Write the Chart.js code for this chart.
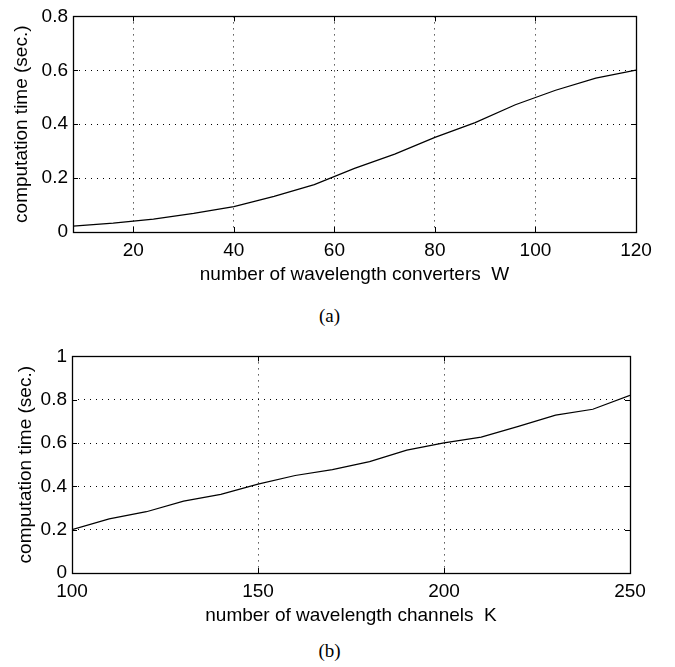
<!DOCTYPE html>
<html>
<head>
<meta charset="utf-8">
<script src="https://cdn.jsdelivr.net/npm/chart.js@4/dist/chart.umd.min.js"></script>
<style>
  body { margin: 0; background: #fff; width: 675px; height: 667px; position: relative; overflow: hidden; }
  canvas { position: absolute; left: 0; }
  .cap { position: absolute; width: 675px; text-align: center; font-family: "Liberation Serif", "DejaVu Serif", serif; font-size: 19px; color: #000; }
</style>
</head>
<body>
<canvas id="chartA" width="675" height="300" style="top:0px"></canvas>
<div class="cap" style="top:305px; left:-8px">(a)</div>
<canvas id="chartB" width="675" height="300" style="top:340px"></canvas>
<div class="cap" style="top:640px; left:-8px">(b)</div>
<script>
// (a) temps de calcul selon le nombre de convertisseurs W
const convertersW = [8, 16, 24, 32, 40, 48, 56, 64, 72, 80, 88, 96, 104, 112, 120]
const timeA = [0.022, 0.033, 0.048, 0.069, 0.094, 0.132, 0.176, 0.236, 0.289, 0.351, 0.406, 0.472, 0.526, 0.571, 0.601]
const xTicksA = [20, 40, 60, 80, 100, 120]
const yTicksA = [0, 0.2, 0.4, 0.6, 0.8]

// (b) temps de calcul selon le nombre de canaux K
const channelsK = [100, 110, 120, 130, 140, 150, 160, 170, 180, 190, 200, 210, 220, 230, 240, 250]
const timeB = [0.2, 0.25, 0.283, 0.332, 0.363, 0.41, 0.45, 0.477, 0.514, 0.567, 0.601, 0.627, 0.677, 0.729, 0.756, 0.82]
const xTicksB = [100, 150, 200, 250]
const yTicksB = [0, 0.2, 0.4, 0.6, 0.8, 1]

const fontFam = '"Liberation Sans", Arial, Helvetica, sans-serif'
const fontSize = 19

// cadre + petites graduations vers l'intérieur (style matlab)
const boxPlugin = {
    id: 'box',
    afterDraw(chart) {
        const {ctx, chartArea: a, scales} = chart
        ctx.save()
        ctx.strokeStyle = '#000'
        ctx.lineWidth = 1
        ctx.setLineDash([])
        ctx.beginPath()
        scales.x.ticks.forEach(t => {
            const px = Math.round(scales.x.getPixelForValue(t.value)) + 0.5
            ctx.moveTo(px, a.bottom); ctx.lineTo(px, a.bottom - 5)
            ctx.moveTo(px, a.top); ctx.lineTo(px, a.top + 5)
        })
        scales.y.ticks.forEach(t => {
            const py = Math.round(scales.y.getPixelForValue(t.value)) + 0.5
            ctx.moveTo(a.left, py); ctx.lineTo(a.left + 5, py)
            ctx.moveTo(a.right, py); ctx.lineTo(a.right - 5, py)
        })
        ctx.stroke()
        ctx.lineWidth = 1.3
        ctx.strokeRect(Math.round(a.left) + 0.5, Math.round(a.top) + 0.5, Math.round(a.right - a.left), Math.round(a.bottom - a.top))
        ctx.restore()
    }
}

function makeChart(id, xs, ys, xTicks, yTicks, xMin, xMax, yMax, xTitle, pad, yWidth, xHeight, yTitlePad, xTitlePad) {
    const config = {
        type: 'line',
        data: {
            datasets: [{
                data: xs.map((x, i) => ({x: x, y: ys[i]})),
                borderColor: '#000',
                borderWidth: 1.2,
                pointRadius: 0,
                tension: 0,
                fill: false
            }]
        },
        options: {
            responsive: false,
            animation: false,
            layout: { padding: pad },
            plugins: { legend: { display: false }, tooltip: { enabled: false } },
            scales: {
                x: {
                    type: 'linear', min: xMin, max: xMax,
                    afterBuildTicks: s => { s.ticks = xTicks.map(v => ({value: v})) },
                    afterFit: s => { s.height = xHeight },
                    grid: { color: '#000', lineWidth: 1, drawTicks: false },
                    border: { display: false, dash: [1, 5] },
                    ticks: { color: '#000', padding: 7, maxRotation: 0, callback: v => String(v), font: { family: fontFam, size: fontSize } },
                    title: { display: true, text: xTitle, color: '#000', padding: { top: 0, bottom: xTitlePad }, font: { family: fontFam, size: fontSize } }
                },
                y: {
                    type: 'linear', min: 0, max: yMax,
                    afterBuildTicks: s => { s.ticks = yTicks.map(v => ({value: v})) },
                    afterFit: s => { s.width = yWidth },
                    grid: { color: '#000', lineWidth: 1, drawTicks: false },
                    border: { display: false, dash: [1, 5] },
                    ticks: { color: '#000', padding: 5, callback: v => String(v), font: { family: fontFam, size: fontSize } },
                    title: { display: true, text: 'computation time (sec.)', color: '#000', padding: { top: yTitlePad, bottom: 0 }, font: { family: fontFam, size: fontSize } }
                }
            }
        },
        plugins: [boxPlugin]
    }
    return new Chart(document.getElementById(id), config)
}

makeChart('chartA', convertersW, timeA, xTicksA, yTicksA, 8, 120, 0.8,
    'number of wavelength converters  W', {left: 8, right: 39, top: 11, bottom: 0}, 65, 68, 2, 14)
makeChart('chartB', channelsK, timeB, xTicksB, yTicksB, 100, 250, 1,
    'number of wavelength channels  K', {left: 8, right: 45, top: 13, bottom: 0}, 64, 67, 6, 13)
</script>
</body>
</html>
